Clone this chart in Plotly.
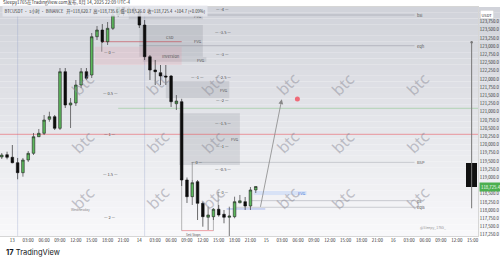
import plotly.graph_objects as go
import pandas as pd

# ---------------- data ----------------
times = pd.date_range("2025-08-12 22:00", periods=49, freq="h")
opens = [119625, 119695, 119616, 119451, 119146, 119534, 119738, 120244, 120348, 120775,
         120854, 120500, 122226, 121211, 121272, 121820, 122226, 122125, 123293, 123497,
         123141, 123549, 123955, 124208, 124010, 124150, 124055, 123650, 122683, 122278,
         122195, 122095, 122095, 121250, 121311, 118924, 118415, 118872, 118213, 117787,
         117805, 118031, 117878, 117787, 117805, 118230, 118262, 118131, 118620.7]
highs = [119747, 119787, 119991, 119595, 119595, 119808, 120357, 120479, 120906, 121006,
         120906, 122339, 122339, 121424, 121973, 122339, 122339, 123406, 123619, 123680,
         123741, 124107, 124474, 124350, 124330, 124300, 124150, 123802, 122735, 122583,
         122430, 122430, 122125, 121515, 121400, 119000, 118924, 118924, 118262, 118110,
         118070, 118162, 118009, 118110, 118415, 118467, 118406, 118710, 118735.6]
lows = [119564, 119555, 119433, 118945, 119025, 119473, 119686, 120235, 120296, 120701,
        120448, 120448, 121119, 120509, 121180, 121729, 121973, 122034, 123192, 123101,
        123040, 123497, 123894, 123924, 123950, 123980, 123558, 122583, 121973, 121820,
        121820, 121820, 121150, 121058, 118741, 118223, 118162, 117704, 117500, 117399,
        117704, 117805, 117604, 117195, 117756, 118213, 118009, 118009, 118526.0]
closes = [119686, 119616, 119451, 119146, 119534, 119738, 120244, 120348, 120753, 120854,
          120500, 122226, 121211, 121272, 121820, 122226, 122025, 123293, 123497, 123141,
          123549, 123955, 124260, 124007, 124150, 124055, 123650, 122683, 122278, 122226,
          122095, 122064, 121311, 121330, 118924, 118415, 118842, 118213, 117805, 117857,
          118031, 117857, 117787, 117826, 118262, 118290, 118131, 118620, 118725.4]

htf_time = ["2025-08-16 14:48"]
htf_open = [119433]
htf_high = [123122]
htf_low = [118061]
htf_close = [118725.4]

x_tick_times = list(pd.date_range("2025-08-13 00:00", "2025-08-16 15:00", freq="3h"))
x_tick_text = [("%d" % t.day) if t.hour == 0 else t.strftime("%H:%M") for t in x_tick_times]
y_tick_vals = [117250, 117500, 117750, 118000, 118250, 118500, 119000, 119250, 119500, 119750,
               120000, 120250, 120500, 120750, 121000, 121250, 121500, 121750, 122000, 122250,
               122500, 122750, 123000, 123250, 123500, 123750]
y_tick_text = ["{:,.1f}".format(v) for v in y_tick_vals]

# fib / annotation levels (price values)
right_fib_levels = ["-4", "-3.5", "-3", "-2.5", "-2", "-1.5", "-1", "-0.5", "0"]
right_fib_prices = [124138, 123446, 122756, 122055, 121363, 120653, 119961, 119259, 118567]
left_fib_levels = ["0", "0.5", "1", "1.5", "2"]
left_fib_prices = [122836, 121586, 120326, 119098, 117805]
mid_fib_levels = ["-1", "0"]
mid_fib_prices = [122055, 119464]

fvg_start = ["2025-08-13 22:00", "2025-08-14 00:00", "2025-08-14 00:40", "2025-08-14 05:00", "2025-08-14 07:30"]
fvg_end = ["2025-08-14 12:00", "2025-08-14 12:00", "2025-08-14 12:40", "2025-08-14 17:00", "2025-08-14 19:00"]
fvg_low = [123824, 122683, 122531, 121415, 119381]
fvg_high = [124025, 123650, 122665, 121942, 120958]
blue_fvg = ["2025-08-14 21:36", "2025-08-15 07:36", 118467, 118588]
pink_zone = ["2025-08-13 15:36", "2025-08-14 08:00", 122430, 122988]
csd_level = 123141
red_level = 120317
green_level = 121110

liq_start = ["2025-08-13 22:00", "2025-08-14 00:00", "2025-08-14 10:00", "2025-08-14 21:00", "2025-08-14 18:00"]
liq_price = [123955, 123019, 119464, 118293, 118092]
liq_text = ["bsl", "eqh", "BSP", "ps", "eqls"]
liq_end = "2025-08-16 04:00"

arrow_tail = ("2025-08-14 22:50", 118061)
arrow_head = ("2025-08-15 02:55", 121384)
target_dot = ("2025-08-15 05:52", 121393)

fig = go.Figure()

# ---------------- background gradient ----------------
N = 40
top_c = (209, 211, 218)
bot_c = (248, 248, 250)
for i in range(N):
    f = i / (N - 1)
    c = tuple(int(round(top_c[k] + (bot_c[k] - top_c[k]) * f)) for k in range(3))
    fig.add_shape(type="rect", xref="paper", yref="paper", x0=0, x1=1 + 22 / 478,
                  y0=1 - (i + 1) / N, y1=1 - i / N, fillcolor="rgb(%d,%d,%d)" % c,
                  line=dict(width=0), layer="below")

# session separators
for t in ["2025-08-13 01:00", "2025-08-14 01:00"]:
    fig.add_shape(type="line", xref="x", yref="paper", x0=t, x1=t, y0=0, y1=1,
                  line=dict(color="rgba(150,160,200,0.35)", width=1), layer="below")

# FVG boxes
for a, b, lo, hi in zip(fvg_start, fvg_end, fvg_low, fvg_high):
    fig.add_shape(type="rect", x0=a, x1=b, y0=lo, y1=hi, fillcolor="rgba(120,123,134,0.2)",
                  line=dict(width=0), layer="below")
    fig.add_annotation(x=b, y=(lo + hi) / 2, text="FVG", showarrow=False, xanchor="right",
                       font=dict(size=4, color="#555"))
fig.add_shape(type="rect", x0=blue_fvg[0], x1=blue_fvg[1], y0=blue_fvg[2], y1=blue_fvg[3],
              fillcolor="rgba(120,170,255,0.2)", line=dict(width=0), layer="below")
fig.add_annotation(x=blue_fvg[1], y=(blue_fvg[2] + blue_fvg[3]) / 2, text="FVG", showarrow=False,
                   xanchor="right", font=dict(size=4, color="#4a7bd6"))
fig.add_shape(type="rect", x0=pink_zone[0], x1=pink_zone[1], y0=pink_zone[2], y1=pink_zone[3],
              fillcolor="rgba(242,120,140,0.15)", line=dict(width=0), layer="below")
fig.add_annotation(x=pink_zone[1], y=122705, text="Inversion", showarrow=False, xanchor="right",
                   font=dict(size=4, color="#555"))
fig.add_shape(type="line", x0="2025-08-13 16:54", x1=pink_zone[1], y0=csd_level, y1=csd_level,
              line=dict(color="rgba(190,60,70,0.6)", width=1), layer="below")
fig.add_annotation(x="2025-08-14 07:00", y=csd_level, text="CSD", showarrow=False, xanchor="right",
                   yanchor="bottom", font=dict(size=4, color="#555"))
fig.add_shape(type="line", x0="2025-08-13 16:54", x1="2025-08-13 16:54", y0=csd_level, y1=left_fib_prices[0],
              line=dict(color="#666", width=0.7), layer="below")

# horizontal levels
fig.add_shape(type="line", x0="2025-08-12 21:00", x1="2025-08-16 17:00", y0=red_level, y1=red_level,
              line=dict(color="rgba(235,80,90,0.55)", width=1), layer="below")
fig.add_shape(type="line", x0="2025-08-13 20:00", x1="2025-08-16 17:00", y0=green_level, y1=green_level,
              line=dict(color="rgba(90,180,90,0.35)", width=1), layer="below")
for s, p, t in zip(liq_start, liq_price, liq_text):
    fig.add_shape(type="line", x0=s, x1=liq_end, y0=p, y1=p,
                  line=dict(color="rgba(120,123,134,0.35)", width=1), layer="below")
    fig.add_annotation(x=liq_end, y=p, text=t, showarrow=False, xanchor="left",
                       font=dict(size=4, color="#555"))
fig.add_shape(type="line", x0="2025-08-14 10:00", x1="2025-08-14 10:00", y0=liq_price[2], y1=118924,
              line=dict(color="#777", width=0.6), layer="below")
fig.add_shape(type="line", x0="2025-08-14 14:54", x1="2025-08-14 14:54", y0=right_fib_prices[-1], y1=117857,
              line=dict(color="#777", width=0.6), layer="below")
fig.add_shape(type="line", x0="2025-08-14 16:30", x1="2025-08-14 23:48", y0=118040, y1=118040,
              line=dict(color="rgba(110,140,230,0.6)", width=1), layer="below")
# sell stops
fig.add_shape(type="line", x0="2025-08-14 08:00", x1="2025-08-14 14:00", y0=117380, y1=117380,
              line=dict(color="rgba(230,110,120,0.8)", width=0.8), layer="below")
fig.add_shape(type="line", x0="2025-08-14 08:00", x1="2025-08-14 08:00", y0=118924, y1=117380,
              line=dict(color="#888", width=0.6), layer="below")
fig.add_shape(type="line", x0="2025-08-14 14:00", x1="2025-08-14 14:00", y0=117805, y1=117380,
              line=dict(color="#888", width=0.6), layer="below")
fig.add_annotation(x="2025-08-14 08:30", y=117380, text="Sell Stops", showarrow=False, xanchor="left",
                   yanchor="top", yshift=0.5, font=dict(size=3.2, color="#555"))

# fib labels
for lv, p in zip(right_fib_levels, right_fib_prices):
    fig.add_annotation(x="2025-08-14 15:48", y=p, text="— %s —" % lv, showarrow=False,
                       font=dict(size=4, color="#444"))
for lv, p in zip(left_fib_levels, left_fib_prices):
    fig.add_annotation(x="2025-08-13 18:30", y=p, text="— %s —" % lv, showarrow=False,
                       font=dict(size=4, color="#444"))
for lv, p in zip(mid_fib_levels, mid_fib_prices):
    fig.add_annotation(x="2025-08-14 10:54", y=p, text="— %s —" % lv, showarrow=False,
                       font=dict(size=4, color="#444"))

# watermarks
for yy in [65, 141.7, 216.7]:
    for xx in [64, 138.6, 213.2, 287.8, 362.4, 437]:
        fig.add_annotation(xref="paper", yref="paper", x=xx / 478, y=1 - (yy - 7) / 229,
                           text="btc", showarrow=False, textangle=-45,
                           font=dict(size=16, color="rgba(140,140,152,0.5)", family="Noto Sans"))

# ---------------- traces ----------------
fig.add_trace(go.Candlestick(x=times, open=opens, high=highs, low=lows, close=closes,
                             increasing=dict(fillcolor="#5cb85c", line=dict(color="#222", width=0.6)),
                             decreasing=dict(fillcolor="#0d0d0d", line=dict(color="#0d0d0d", width=0.6)),
                             whiskerwidth=0, showlegend=False, hoverinfo="skip"))
fig.add_trace(go.Scatter(x=htf_time * 2, y=[htf_low[0], htf_high[0]], mode="lines",
                         line=dict(color="#777", width=1), showlegend=False, hoverinfo="skip"))
fig.add_trace(go.Scatter(x=htf_time, y=htf_high, mode="markers", marker=dict(size=2.5, color="#777"),
                         showlegend=False, hoverinfo="skip"))
fig.add_trace(go.Bar(x=htf_time, y=[htf_open[0] - htf_close[0]], base=htf_close, width=[7.2e6],
                     marker=dict(color="#111", line=dict(width=0)), showlegend=False, hoverinfo="skip"))
fig.add_trace(go.Scatter(x=[target_dot[0]], y=[target_dot[1]], mode="markers",
                         marker=dict(size=5, color="#ef6b78"), showlegend=False, hoverinfo="skip"))
fig.add_annotation(x=arrow_head[0], y=arrow_head[1], ax=arrow_tail[0], ay=arrow_tail[1],
                   xref="x", yref="y", axref="x", ayref="y", showarrow=True, arrowhead=2,
                   arrowsize=1.2, arrowwidth=0.8, arrowcolor="#888", text="")

# ---------------- text ----------------
fig.add_annotation(xref="paper", yref="paper", x=0.002, y=1.0175, xanchor="left", yanchor="middle",
                   text="Sleepy1765在TradingView.com发布, 8月 14, 2025 22:09 UTC-4", showarrow=False,
                   font=dict(size=4.5, color="#333"))
fig.add_annotation(xref="paper", yref="paper", x=0.004, y=0.984, xanchor="left", yanchor="middle",
                   text="BTCUSDT · 1小时 · BINANCE   开=118,620.7  高=118,735.6  低=118,526.0  收=118,725.4  +104.7 (+0.09%)",
                   showarrow=False, bgcolor="rgba(232,233,238,0.85)", borderpad=1.5,
                   font=dict(size=4.2, color="#333"))
fig.add_annotation(xref="paper", yref="y", x=1.002, y=htf_close[0], xanchor="left", text="118,725.4",
                   showarrow=False, bgcolor="#4caf50", borderpad=1, font=dict(size=4.3, color="white"))
fig.add_annotation(xref="paper", yref="paper", x=1.004, y=0.985, xanchor="left", text="USDT",
                   showarrow=False, bgcolor="white", bordercolor="#ccc", borderwidth=0.5, borderpad=1,
                   font=dict(size=4, color="#333"))
fig.add_annotation(x="2025-08-13 12:48", y=118009, text="Wednesday", showarrow=False,
                   font=dict(size=3.5, color="#888"))
fig.add_annotation(xref="paper", yref="paper", x=448 / 478, y=0.0175, text="@Sleepy_1765_",
                   showarrow=False, font=dict(size=3.5, color="#999"))
fig.add_annotation(xref="paper", yref="paper", x=0.008, y=-0.07, xanchor="left", yanchor="middle",
                   text="<b>17</b> TradingView", showarrow=False,
                   font=dict(size=7.5, color="#131722", family="Inter"))

fig.update_layout(
    width=500, height=261, margin=dict(l=0, r=22, t=7, b=25),
    paper_bgcolor="white", plot_bgcolor="rgba(0,0,0,0)",
    font=dict(family="Noto Sans CJK SC, Noto Sans, sans-serif"),
    bargap=0, showlegend=False,
    xaxis=dict(type="date", range=["2025-08-12 21:40", "2025-08-16 16:00"], rangeslider=dict(visible=False),
               tickvals=x_tick_times, ticktext=x_tick_text, tickfont=dict(size=4.5, color="#333"),
               showgrid=False, zeroline=False, showline=True, linecolor="#d6d6d6", linewidth=1,
               mirror=True, ticks="", ticklen=0),
    yaxis=dict(side="right", range=[117216, 124199], tickvals=y_tick_vals, ticktext=y_tick_text,
               tickfont=dict(size=4.3, color="#333"), showgrid=False, zeroline=False,
               showline=True, linecolor="#d6d6d6", mirror=True, ticks=""),
)

fig.write_html("out.html")
